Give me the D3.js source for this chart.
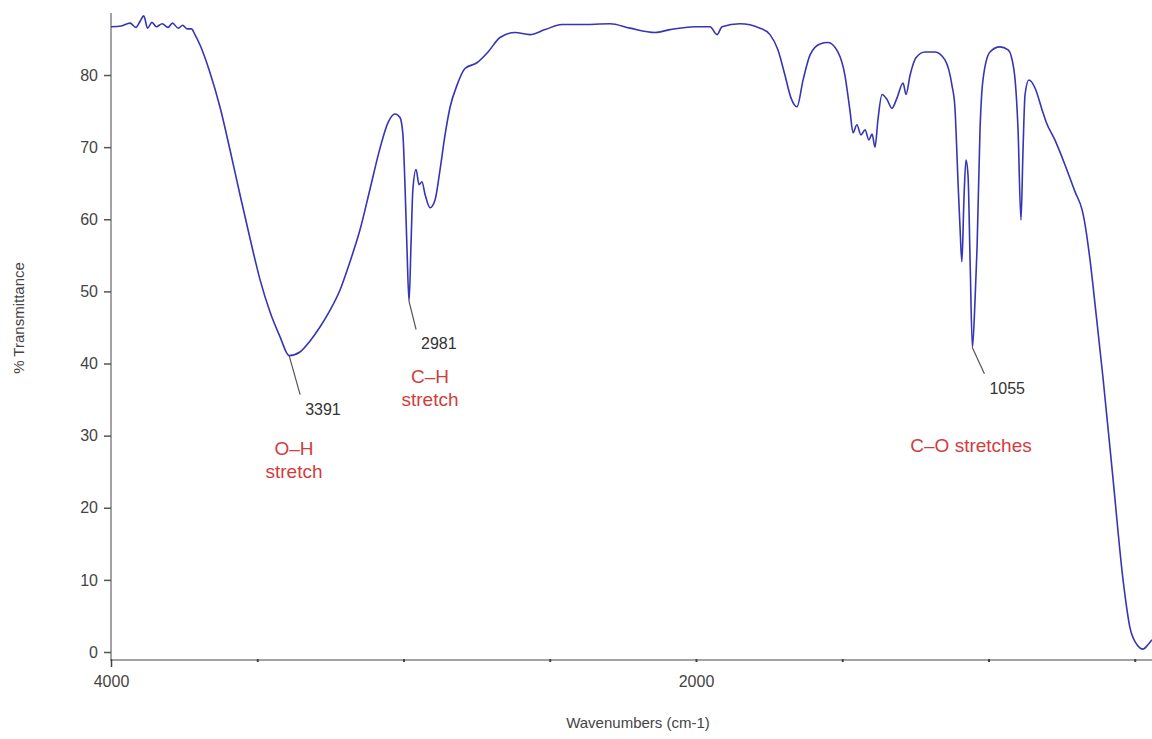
<!DOCTYPE html>
<html>
<head>
<meta charset="utf-8">
<script src="https://cdn.jsdelivr.net/npm/d3@7/dist/d3.min.js"></script>
<style>
  body { margin: 0; background: #fff; }
  svg { display: block; font-family: "Liberation Sans", Arial, sans-serif; }
</style>
</head>
<body>
<svg id="chart" width="1152" height="739"></svg>
<script>
// spectrum: wavenumber (cm-1) and % transmittance
const wavenumbers = [4000, 3965, 3935, 3915, 3900, 3888, 3875, 3860, 3845, 3825, 3805, 3790, 3770, 3755, 3740, 3725,
  3713, 3696, 3662, 3627, 3593, 3559, 3525, 3491, 3456, 3422, 3391, 3354, 3320, 3285, 3251, 3217, 3183, 3149, 3115,
  3080, 3053, 3029, 3012, 3002, 2995, 2988, 2981, 2974, 2968, 2957, 2947, 2937, 2926, 2909, 2892, 2875, 2858, 2841,
  2817, 2790, 2749, 2711, 2670, 2619, 2568, 2516, 2458, 2397, 2294, 2226, 2140, 2089, 2003, 1952, 1928, 1911, 1850,
  1781, 1747, 1720, 1696, 1675, 1655, 1634, 1610, 1576, 1549, 1515, 1491, 1474, 1463, 1450, 1436, 1422, 1409, 1398,
  1388, 1378, 1364, 1347, 1330, 1313, 1292, 1282, 1268, 1248, 1217, 1183, 1149, 1125, 1115, 1104, 1097, 1091, 1084,
  1077, 1070, 1063, 1055, 1046, 1039, 1029, 1019, 995, 961, 933, 913, 899, 889, 882, 875, 862, 841, 817, 803, 773,
  738, 704, 680, 674, 653, 632, 609, 574, 540, 516, 492, 472, 455, 441];
const transmittance = [86.7, 86.8, 87.2, 86.6, 87.5, 88.2, 86.5, 87.3, 86.7, 87.1, 86.6, 87.2, 86.5, 86.9, 86.4, 86.4,
  85.6, 84.2, 80.4, 75.5, 69.6, 63.4, 57.4, 51.7, 47.1, 43.7, 41.1, 41.6, 43.1, 45.1, 47.4, 50.2, 54.1, 58.5, 64.1,
  69.9, 73.4, 74.6, 74.1, 71.7, 64.8, 55.8, 48.6, 57.0, 64.1, 66.9, 64.8, 65.2, 63.4, 61.6, 62.7, 66.9, 71.7, 75.5,
  78.6, 80.9, 81.7, 83.2, 85.2, 85.9, 85.6, 86.3, 87.0, 87.0, 87.1, 86.5, 85.9, 86.3, 86.7, 86.7, 85.6, 86.7, 87.1,
  86.5, 85.6, 83.5, 80.0, 76.8, 75.6, 79.3, 82.8, 84.3, 84.5, 83.2, 80.0, 75.2, 72.0, 73.1, 71.7, 72.4, 71.0, 71.8,
  70.0, 73.8, 77.3, 76.6, 75.4, 76.8, 78.9, 77.3, 80.0, 82.4, 83.2, 83.2, 82.1, 78.6, 75.6, 65.0, 58.5, 54.1, 62.7,
  68.2, 66.1, 54.4, 42.2, 48.8, 56.2, 72.4, 79.3, 83.2, 83.9, 83.5, 80.7, 72.4, 59.9, 69.6, 77.3, 79.3, 78.2, 75.2,
  73.5, 71.0, 67.5, 63.8, 61.3, 60.2, 54.4, 46.8, 38.2, 23.9, 10.0, 3.3, 1.0, 0.4, 1.0, 1.7];

const yTicks = [0, 10, 20, 30, 40, 50, 60, 70, 80];
const xTicks = [4000, 3500, 3000, 2500, 2000, 1500, 1000, 500];
const xTickLabels = ['4000', '', '', '', '2000', '', '', ''];

// peak labels and band names
const peakNumbers = [3391, 2981, 1055];
const peakValues = [41.1, 48.6, 42.2];
const bandLines = [['O\u2013H', 'stretch'], ['C\u2013H', 'stretch'], ['C\u2013O stretches']];

const svg = d3.select('#chart');

const x = d3.scaleLinear().domain([4000, 400]).range([111, 1164]);
const y = d3.scaleLinear().domain([0, 88.6]).range([652, 13]);

const axisColor = '#a3a3a3';
const textColor = '#444';

// axis lines
svg.append('line').attr('x1', 111).attr('x2', 111).attr('y1', 13).attr('y2', 661)
  .attr('stroke', axisColor).attr('stroke-width', 2);
svg.append('line').attr('x1', 110).attr('x2', 1152).attr('y1', 660).attr('y2', 660)
  .attr('stroke', axisColor).attr('stroke-width', 2);

// y axis
const yAxis = svg.append('g').attr('transform', 'translate(111,0)')
  .call(d3.axisLeft(y).tickValues(yTicks).tickSize(7).tickPadding(6));
yAxis.select('.domain').remove();
yAxis.selectAll('.tick line').attr('stroke', '#555').attr('stroke-width', 1.5);
yAxis.selectAll('.tick text').attr('fill', textColor).style('font-size', '16px')
  .style('font-family', '"Liberation Sans", Arial, sans-serif');

// x axis
const xAxis = svg.append('g').attr('transform', 'translate(0,660)')
  .call(d3.axisBottom(x).tickValues(xTicks).tickSize(2).tickPadding(14)
    .tickFormat((d, i) => xTickLabels[i]));
xAxis.select('.domain').remove();
xAxis.selectAll('.tick line').attr('stroke', '#444').attr('stroke-width', 2).attr('y1', -1);
xAxis.select('.tick line').attr('y2', 7).attr('stroke-width', 1.5);
xAxis.selectAll('.tick text').attr('fill', textColor).style('font-size', '16px')
  .style('font-family', '"Liberation Sans", Arial, sans-serif');

// axis titles
svg.append('text').attr('x', 638).attr('y', 728).attr('text-anchor', 'middle')
  .attr('fill', textColor).style('font-size', '15px').text('Wavenumbers (cm-1)');
svg.append('text').attr('transform', 'translate(24,318) rotate(-90)').attr('text-anchor', 'middle')
  .attr('fill', textColor).style('font-size', '15px').text('% Transmittance');

// spectrum
const points = wavenumbers.map((w, i) => [w, transmittance[i]]);
const line = d3.line().x(d => x(d[0])).y(d => y(d[1])).curve(d3.curveMonotoneX);
svg.append('path').datum(points).attr('d', line)
  .attr('fill', 'none').attr('stroke', '#3535b5').attr('stroke-width', 1.6)
  .attr('stroke-linejoin', 'round');

// leader lines to the peak numbers
const leaderOffsets = [[11, 39], [7, 28], [12, 26]];
peakNumbers.forEach((p, i) => {
  const px = x(p), py = y(peakValues[i]);
  svg.append('line').attr('x1', px).attr('y1', py)
    .attr('x2', px + leaderOffsets[i][0]).attr('y2', py + leaderOffsets[i][1])
    .attr('stroke', '#555').attr('stroke-width', 1.2);
  svg.append('text').attr('x', px + leaderOffsets[i][0] + 5).attr('y', py + leaderOffsets[i][1] + 20)
    .attr('fill', '#333').style('font-size', '16px').text(p);
});

// red band names
const bandPos = [[294, 455], [430, 383], [971, 452]];
bandLines.forEach((lines, i) => {
  lines.forEach((t, j) => {
    svg.append('text').attr('x', bandPos[i][0]).attr('y', bandPos[i][1] + j * 23)
      .attr('text-anchor', 'middle').attr('fill', '#d23c3c').style('font-size', '19px').text(t);
  });
});
</script>
</body>
</html>
